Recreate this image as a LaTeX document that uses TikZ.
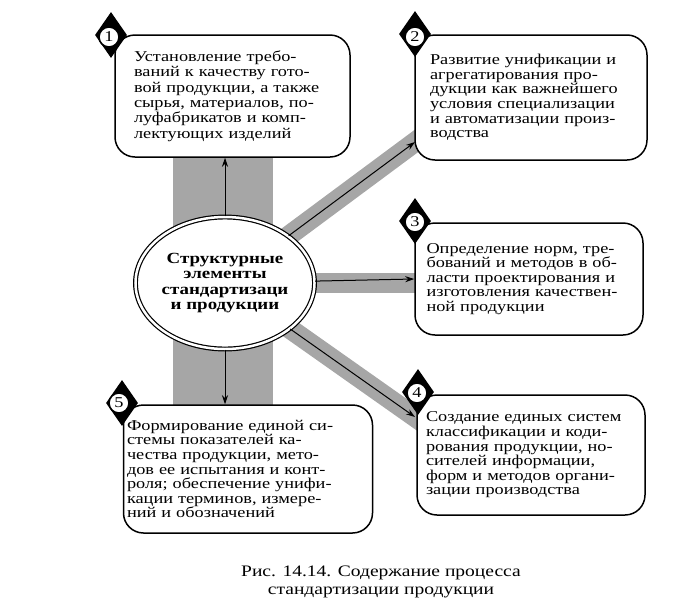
\documentclass[tikz,border=0pt]{standalone}
\usepackage{fontspec}
\setmainfont{Liberation Serif}[FakeStretch=1.22]
\usetikzlibrary{shapes.geometric,calc,arrows.meta}
\newcommand\jline[1]{\makebox[\hsize][s]{#1}}
\begin{document}
\begin{tikzpicture}[x=1pt,y=-1pt,
  box/.style={draw,line width=1.5pt,rounded corners=20pt,fill=white,align=left,inner sep=0pt,
    font=\fontsize{15}{14.6}\selectfont},
  band/.style={line width=20pt,draw=black!35},
  arr/.style={-{Stealth[length=9pt,width=6pt]},line width=1pt},
  numdiamond/.style={diamond,fill=black,minimum width=32pt,minimum height=46pt,inner sep=0pt},
  numcirc/.style={circle,draw,fill=white,line width=1.6pt,minimum size=20pt,inner sep=0pt,
    font=\fontsize{15}{15}\selectfont},
  hub/.style={ellipse,draw,line width=1.2pt,double,double distance=2.5pt,fill=white,
    minimum width=162pt,minimum height=132pt,align=center,inner sep=0pt,
    font=\bfseries\fontsize{15.5}{15.5}\selectfont},
  caption/.style={align=center,font=\fontsize{16}{18}\selectfont}
]
\useasboundingbox (0,0) rectangle (684,600);

% grey bands
\fill[black!35] (173,150) rectangle (273,410);
\coordinate (t2) at (415,142);
\coordinate (t3) at (415,283);
\coordinate (t4) at (415,417);
\draw[band] (225,283) -- ($(225,283)!1.05!(t2)$);
\draw[band] (225,283) -- (425,283);
\draw[band] (225,283) -- ($(225,283)!1.05!(t4)$);

% boxes
\node[box,text width=197pt,minimum width=235pt,minimum height=122pt,font=\fontsize{15}{15.4}\selectfont] (b1) at (232.5,96) {%
\jline{Установление требо-}\\
\jline{ваний к качеству гото-}\\
\jline{вой продукции, а также}\\
\jline{сырья, материалов, по-}\\
\jline{луфабрикатов и комп-}\\
лектующих изделий};

\node[box,text width=202pt,minimum width=232pt,minimum height=125pt] (b2) at (531,97.5) {%
\jline{Развитие унификации и}\\
\jline{агрегатирования про-}\\
\jline{дукции как важнейшего}\\
\jline{условия специализации}\\
\jline{и автоматизации произ-}\\
водства};

\node[box,text width=205pt,minimum width=228pt,minimum height=112pt] (b3) at (529,279) {%
\jline{Определение норм, тре-}\\
\jline{бований и методов в об-}\\
\jline{ласти проектирования и}\\
\jline{изготовления качествен-}\\
ной продукции};

\node[box,text width=210pt,minimum width=228pt,minimum height=120pt] (b4) at (531,455) {%
\jline{Создание единых систем}\\
\jline{классификации и коди-}\\
\jline{рования продукции, но-}\\
\jline{сителей информации,}\\
\jline{форм и методов органи-}\\
зации производства};

\node[box,text width=242pt,minimum width=249pt,minimum height=128pt] (b5) at (248,469) {%
\jline{Формирование единой си-}\\
\jline{стемы показателей ка-}\\
\jline{чества продукции, мето-}\\
\jline{дов ее испытания и конт-}\\
\jline{роля; обеспечение унифи-}\\
\jline{кации терминов, измере-}\\
ний и обозначений};

% number markers
\node[numdiamond] (d1) at (111,35) {};
\node[numcirc] (n1) at (109,37) {1};
\node[numdiamond] (d2) at (415,34) {};
\node[numcirc] (n2) at (415,37) {2};
\node[numdiamond] (d3) at (415,221) {};
\node[numcirc] (n3) at (415,222) {3};
\node[numdiamond] (d4) at (418,392) {};
\node[numcirc] (n4) at (417,393) {4};
\node[numdiamond] (d5) at (122,403) {};
\node[numcirc] (n5) at (119,403) {5};

% hub
\node[hub] (c) at (225,283) {Структурные\\элементы\\стандартизаци\\и продукции};

% arrows
\draw[arr] (c.north) -- (c.north |- b1.south);
\draw[arr] (c.south) -- (c.south |- b5.north);
\draw[arr] (c) -- (t2);
\draw[arr] (c) -- (b3.west);
\draw[arr] (c) -- (t4);

% caption
\node[caption] (cap) at (381,582) {Рис. 14.14. Содержание процесса\\стандартизации продукции};
\end{tikzpicture}
\end{document}
